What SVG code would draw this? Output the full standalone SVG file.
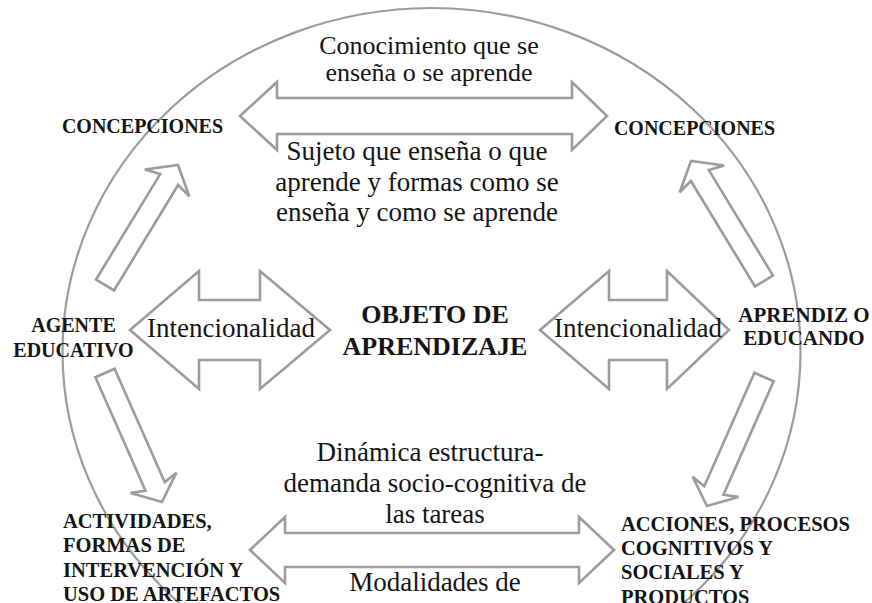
<svg xmlns="http://www.w3.org/2000/svg" width="872" height="603" viewBox="0 0 872 603">
  <style>
    .bg { fill: #ffffff; }
    .ring { fill: none; stroke: #9c9c9c; stroke-width: 2.2; }
    .arrow { fill: none; stroke: #9c9c9c; stroke-width: 2.6; stroke-linejoin: miter; }
    .lbl { font-family: "Liberation Serif", "Times New Roman", serif; font-size: 27px; fill: #141414; text-anchor: middle; }
    .node { font-family: "Liberation Serif", "Times New Roman", serif; font-weight: bold; font-size: 20px; fill: #141414; text-anchor: middle; }
    .nodeL { font-family: "Liberation Serif", "Times New Roman", serif; font-weight: bold; font-size: 20.5px; fill: #141414; text-anchor: start; }
  </style>
  <rect class="bg" x="0" y="0" width="872" height="603"/>
  <ellipse class="ring" cx="431.5" cy="352" rx="369" ry="344"/>

  <g id="connectors">
    <path class="arrow" d="M240,116 L277,82 L277,98 L572,98 L572,82 L607,116 L572,150 L572,134 L277,134 L277,150 Z"/>
    <path class="arrow" d="M250,550 L285,517 L285,533 L579,533 L579,517 L614,550 L579,583 L579,567 L285,567 L285,583 Z"/>
    <path class="arrow" d="M130,330 L199,271 L199,300 L260,300 L260,271 L330,330 L260,389 L260,360 L199,360 L199,389 Z"/>
    <path class="arrow" d="M540,330 L609,271 L609,300 L667,300 L667,271 L729,330 L667,389 L667,360 L609,360 L609,389 Z"/>
    <path class="arrow" d="M113.97,290.46 L178.14,184.98 L189.3,196.45 L178,165 L144.88,169.43 L160.19,174.06 L96.03,279.54 Z"/>
    <path class="arrow" d="M755.03,286.46 L690.86,180.98 L679.7,192.45 L691,161 L724.12,165.43 L708.81,170.06 L772.97,275.54 Z"/>
    <path class="arrow" d="M114.6,368.76 L164.73,482.21 L176.38,472.68 L162,502 L130.64,492.9 L145.53,490.69 L95.4,377.24 Z"/>
    <path class="arrow" d="M754.4,372.76 L704.27,486.21 L692.62,476.68 L707,506 L738.36,496.9 L723.47,494.69 L773.6,381.24 Z"/>

    <text class="lbl" x="429" y="54" style="font-size:26px">Conocimiento que se</text>
    <text class="lbl" x="429" y="81" style="font-size:26px">enseña o se aprende</text>
    <text class="lbl" x="417" y="160">Sujeto que enseña o que</text>
    <text class="lbl" x="417" y="191">aprende y formas como se</text>
    <text class="lbl" x="417" y="221">enseña y como se aprende</text>
    <text class="lbl" x="231" y="337">Intencionalidad</text>
    <text class="lbl" x="638" y="337">Intencionalidad</text>
    <text class="lbl" x="430" y="461">Dinámica estructura-</text>
    <text class="lbl" x="435" y="492">demanda socio-cognitiva de</text>
    <text class="lbl" x="435" y="523">las tareas</text>
    <text class="lbl" x="435" y="591">Modalidades de</text>
  </g>

  <g id="concepciones-left">
    <text class="node" x="142.5" y="133">CONCEPCIONES</text>
  </g>
  <g id="concepciones-right">
    <text class="node" x="694.5" y="135">CONCEPCIONES</text>
  </g>
  <g id="agente-educativo">
    <text class="node" x="73.5" y="332">AGENTE</text>
    <text class="node" x="73.5" y="357">EDUCATIVO</text>
  </g>
  <g id="aprendiz-educando">
    <text class="node" x="804" y="322" style="font-size:21px">APRENDIZ O</text>
    <text class="node" x="804" y="345" style="font-size:21px">EDUCANDO</text>
  </g>
  <g id="objeto-aprendizaje">
    <text class="node" x="435" y="323" style="font-size:26px">OBJETO DE</text>
    <text class="node" x="435" y="355" style="font-size:26px">APRENDIZAJE</text>
  </g>
  <g id="actividades">
    <text class="nodeL" x="63" y="528">ACTIVIDADES,</text>
    <text class="nodeL" x="63" y="552">FORMAS DE</text>
    <text class="nodeL" x="63" y="577">INTERVENCIÓN Y</text>
    <text class="nodeL" x="63" y="601">USO DE ARTEFACTOS</text>
  </g>
  <g id="acciones">
    <text class="nodeL" x="621" y="531">ACCIONES, PROCESOS</text>
    <text class="nodeL" x="621" y="555">COGNITIVOS Y</text>
    <text class="nodeL" x="621" y="579">SOCIALES Y</text>
    <text class="nodeL" x="621" y="604">PRODUCTOS</text>
  </g>
</svg>
